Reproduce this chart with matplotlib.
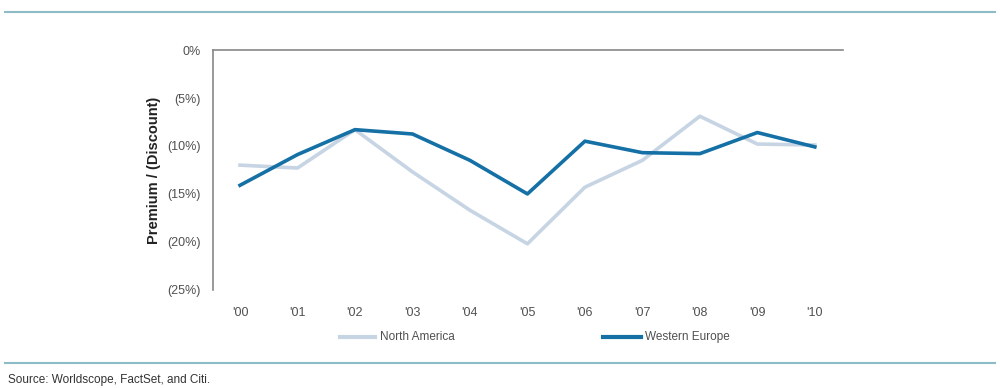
import matplotlib.pyplot as plt
from matplotlib.lines import Line2D

anos = ["'00", "'01", "'02", "'03", "'04", "'05", "'06", "'07", "'08", "'09", "'10"]
north_america = [-12.0, -12.3, -8.3, -12.7, -16.7, -20.2, -14.3, -11.5, -6.9, -9.8, -9.9]
western_europe = [-14.1, -10.9, -8.3, -8.75, -11.5, -15.0, -9.5, -10.7, -10.8, -8.6, -10.1]
y_ticks = [0, -5, -10, -15, -20, -25]
y_labels = ["0%", "(5%)", "(10%)", "(15%)", "(20%)", "(25%)"]

COR_NA = "#c6d4e3"
COR_WE = "#1570a6"
COR_LINHA = "#8dbcc6"
COR_TEXTO = "#505050"

plt.rcParams["font.family"] = ["Liberation Sans", "DejaVu Sans"]

fig = plt.figure(figsize=(10, 3.88), dpi=100)
ax = fig.add_axes([0.213, 0.253, 0.63, 0.618])

x = list(range(len(anos)))
ax.plot(x, north_america, color=COR_NA, linewidth=2.6, label="North America")
ax.plot(x, western_europe, color=COR_WE, linewidth=2.6, label="Western Europe")

ax.set_xlim(-0.47, 10.49)
ax.set_ylim(-25, 0)
ax.set_xticks(x)
ax.set_xticklabels(anos, fontsize=9, color=COR_TEXTO)
ax.set_yticks(y_ticks)
ax.set_yticklabels(y_labels, fontsize=9, color=COR_TEXTO)
ax.tick_params(axis="y", length=0, pad=9)
ax.tick_params(axis="x", length=0, pad=12)

for lado in ["right", "bottom"]:
    ax.spines[lado].set_visible(False)
for lado in ["top", "left"]:
    ax.spines[lado].set_color("#888888")
    ax.spines[lado].set_linewidth(1.2)

ax.set_ylabel("Premium / (Discount)", fontsize=10.5, fontweight="bold", color="#222222")
ax.yaxis.set_label_coords(-0.083, 0.5)

# legenda manual
fig.add_artist(Line2D([0.340, 0.375], [1 - 337 / 388] * 2, color=COR_NA, linewidth=3))
fig.text(0.380, 1 - 337 / 388, "North America", fontsize=8.5, color=COR_TEXTO, va="center")
fig.add_artist(Line2D([0.603, 0.641], [1 - 337 / 388] * 2, color=COR_WE, linewidth=3))
fig.text(0.645, 1 - 337 / 388, "Western Europe", fontsize=8.5, color=COR_TEXTO, va="center")

# linhas horizontais de moldura
fig.add_artist(Line2D([0.005, 0.995], [1 - 12 / 388] * 2, color=COR_LINHA, linewidth=1.5))
fig.add_artist(Line2D([0.005, 0.995], [1 - 363 / 388] * 2, color=COR_LINHA, linewidth=1.5))

fig.text(0.008, 1 - 380 / 388, "Source: Worldscope, FactSet, and Citi.", fontsize=8.5,
         color="#333333", va="center")

fig.savefig("out.png", dpi=100)
plt.close()
